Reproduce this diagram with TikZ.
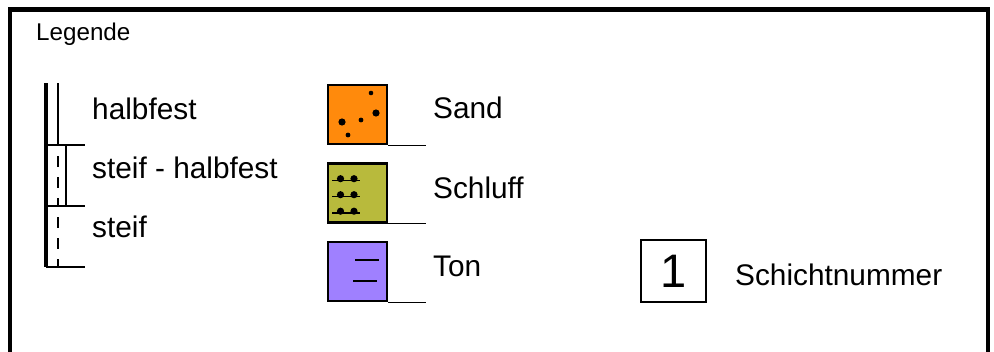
\documentclass[tikz,border=0pt]{standalone}
\usepackage{fontspec}
\setmainfont{Liberation Sans}
\usetikzlibrary{positioning}
\definecolor{sandcol}{HTML}{FF8A0C}
\definecolor{schluffcol}{HTML}{B8BA3C}
\definecolor{toncol}{HTML}{9F80FF}
\begin{document}
\begin{tikzpicture}[x=1pt, y=-1pt,
    lbl/.style={anchor=base west, inner sep=0pt, font=\fontsize{29.8}{30}\selectfont},
    soilbox/.style={draw, line width=2.6pt, minimum size=59pt, inner sep=0pt},
    thinline/.style={line width=1.3pt},
    dashline/.style={line width=1.3pt, dash pattern=on 11pt off 10pt, dash phase=10pt}]
    \useasboundingbox (0,0) rectangle (994,351);
    \draw[line width=4.5pt] (10,360) -- (10,9.5) -- (988,9.5) -- (988,360);
    \node[anchor=base west, inner sep=0pt, font=\fontsize{24.2}{25}\selectfont] (legende) at (36,40.5) {Legende};
    % consistency column
    \coordinate (k0) at (46,83); \coordinate (k1) at (46,145); \coordinate (k2) at (46,206); \coordinate (k3) at (46,267);
    \draw[line width=3.4pt] (k0) -- (k3);
    \draw[thinline] ([xshift=12pt]k0) -- ([xshift=12pt]k1);
    \draw[dashline] ([xshift=12pt]k1) -- ([xshift=12pt]k2); \draw[dashline] ([xshift=12pt]k2) -- ([xshift=12pt]k3);
    \draw[thinline] ([xshift=20pt]k1) -- ([xshift=20pt]k2);
    \foreach \p in {k1,k2,k3} \draw[thinline] (\p) -- ++(39,0);
    \node[lbl] (halbfest) at (92,119) {halbfest};
    \node[lbl] (steifhalbfest) at (92,178) {steif - halbfest};
    \node[lbl] (steif) at (92,237) {steif};
    % soil types
    \node[soilbox, fill=sandcol] (sand) at (357.5,114.5) {};
    \node[soilbox, fill=schluffcol] (schluff) at (357.5,193) {};
    \node[soilbox, fill=toncol] (ton) at (357.5,271.5) {};
    \foreach \b in {sand,schluff,ton} \draw[thinline] (\b.south east) -- ++(38,0);
    \foreach \x/\y/\r in {371/93/2.3, 376/113/3.6, 342/122/3.6, 361/120/2.4, 348/135/2.4} \fill (\x,\y) circle (\r);
    \foreach \y in {180.5,196.5,213} {
        \draw[thinline] (332,\y) -- (360,\y);
        \fill (340.5,\y-1.8) circle (3.6); \fill (354,\y-1.8) circle (3.6);
    }
    \draw[thinline] (355,260) -- (379,260); \draw[thinline] (353,281) -- (377,281);
    \node[lbl] (sandlbl) at (433,118) {Sand};
    \node[lbl] (schlufflbl) at (433,198) {Schluff};
    \node[lbl] (tonlbl) at (433,276) {Ton};
    % layer number
    \node[draw, line width=1.1pt, minimum width=65pt, minimum height=62pt, inner sep=0pt, font=\fontsize{47}{47}\selectfont] (nr) at (673.5,271) {1};
    \node[lbl] (nrlbl) at (735,285) {Schichtnummer};
\end{tikzpicture}
\end{document}
